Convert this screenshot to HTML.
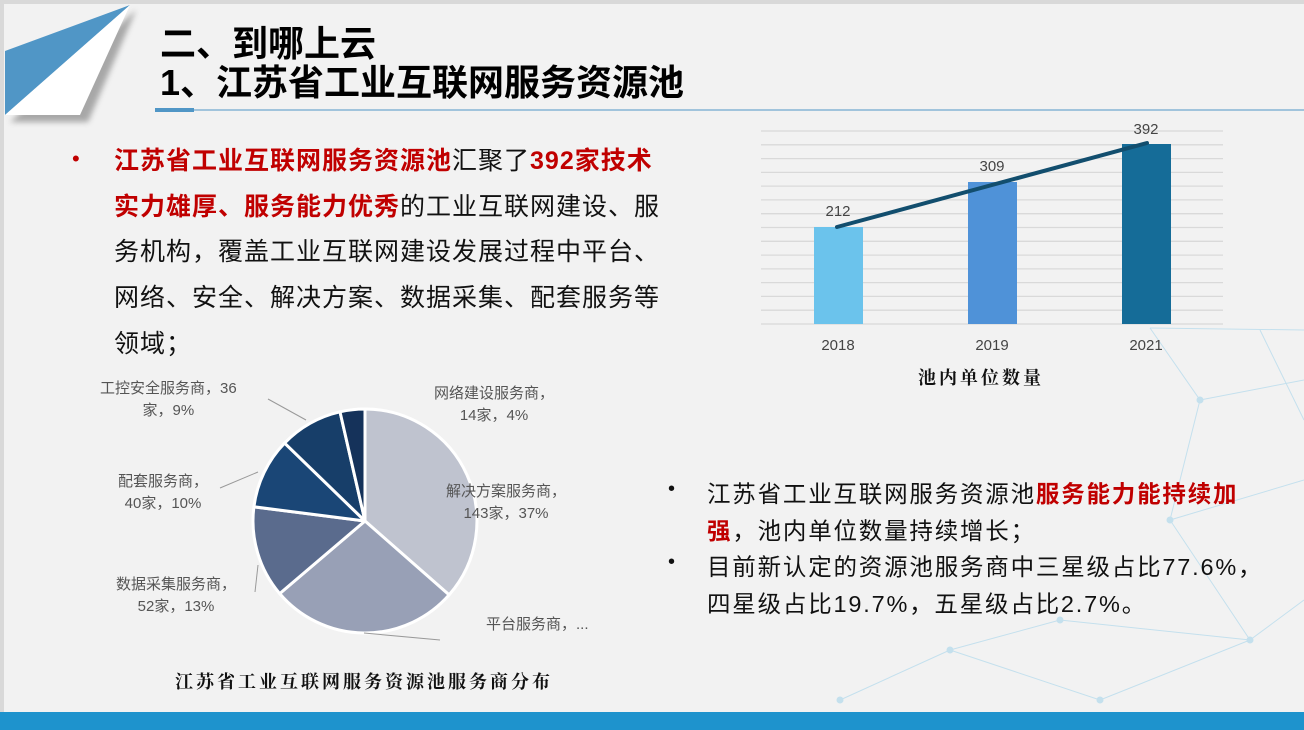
<!DOCTYPE html>
<html><head><meta charset="utf-8"><style>
body{margin:0;width:1304px;height:730px;overflow:hidden;background:#f2f2f2;font-family:"Liberation Sans","Noto Sans CJK SC",sans-serif;position:relative}
.a{position:absolute;white-space:nowrap}
.t{font-weight:bold;font-size:36px;color:#000;left:160px;line-height:40px}
.p{left:114px;font-size:25px;letter-spacing:1px;color:#111;line-height:45.7px;top:139px}
.r{color:#c00000;font-weight:bold}
.q{left:707px;font-size:23.5px;letter-spacing:1.8px;color:#111;line-height:36.5px}
.lb{font-size:15px;color:#555;line-height:22px;text-align:center}
</style></head><body>
<div class="a" style="left:0;top:0;width:1304px;height:4px;background:#d9d9d9"></div>
<div class="a" style="left:0;top:0;width:4px;height:730px;background:#d9d9d9"></div>
<svg class="a" style="left:0;top:0" width="1304" height="730">
<defs><filter id="s"><feGaussianBlur stdDeviation="3"/></filter></defs>
<polygon points="10,122 136,10 88,122" fill="#888" filter="url(#s)" opacity="0.7"/>
<polygon points="5,51 130,5 5,115" fill="#5096c6"/>
<polygon points="5,115 130,5 80,115" fill="#fff"/>
<rect x="155" y="108" width="39" height="4" fill="#5096c6"/>
<line x1="194" y1="110" x2="1304" y2="110" stroke="#5096c6" stroke-width="1"/>
<g stroke="#b9dced" stroke-width="1" fill="#b9dced" opacity="0.8">
<line x1="1150" y1="328" x2="1304" y2="330"/><line x1="1150" y1="328" x2="1200" y2="400"/><line x1="1200" y1="400" x2="1304" y2="380"/>
<line x1="1200" y1="400" x2="1170" y2="520"/><line x1="1170" y1="520" x2="1304" y2="480"/><line x1="1170" y1="520" x2="1250" y2="640"/>
<line x1="1250" y1="640" x2="1304" y2="600"/><line x1="1250" y1="640" x2="1100" y2="700"/><line x1="1100" y1="700" x2="950" y2="650"/>
<line x1="950" y1="650" x2="840" y2="700"/><line x1="950" y1="650" x2="1060" y2="620"/><line x1="1060" y1="620" x2="1250" y2="640"/>
<line x1="1260" y1="330" x2="1304" y2="420"/>
<circle cx="1200" cy="400" r="3"/><circle cx="1170" cy="520" r="3"/><circle cx="1250" cy="640" r="3"/><circle cx="950" cy="650" r="3"/><circle cx="1100" cy="700" r="3"/><circle cx="1060" cy="620" r="3"/><circle cx="840" cy="700" r="3"/>
</g>
<g stroke="#d9d9d9" stroke-width="1.3">
<line x1="761" y1="131" x2="1223" y2="131"/><line x1="761" y1="144.8" x2="1223" y2="144.8"/><line x1="761" y1="158.6" x2="1223" y2="158.6"/><line x1="761" y1="172.4" x2="1223" y2="172.4"/><line x1="761" y1="186.1" x2="1223" y2="186.1"/><line x1="761" y1="199.9" x2="1223" y2="199.9"/><line x1="761" y1="213.7" x2="1223" y2="213.7"/><line x1="761" y1="227.5" x2="1223" y2="227.5"/><line x1="761" y1="241.3" x2="1223" y2="241.3"/><line x1="761" y1="255.1" x2="1223" y2="255.1"/><line x1="761" y1="268.9" x2="1223" y2="268.9"/><line x1="761" y1="282.6" x2="1223" y2="282.6"/><line x1="761" y1="296.4" x2="1223" y2="296.4"/><line x1="761" y1="310.2" x2="1223" y2="310.2"/><line x1="761" y1="324" x2="1223" y2="324"/>
</g>
<rect x="814" y="227" width="49" height="97" fill="#6bc3ec"/>
<rect x="968" y="182" width="49" height="142" fill="#4f92d8"/>
<rect x="1122" y="144" width="49" height="180" fill="#156c98"/>
<polyline points="837,227 1147,143" stroke="#124e6e" stroke-width="4" stroke-linecap="round" fill="none"/>
<g font-size="15" fill="#444" text-anchor="middle" font-family="Liberation Sans,sans-serif">
<text x="838" y="216">212</text><text x="992" y="171">309</text><text x="1146" y="134">392</text>
<text x="838" y="350">2018</text><text x="992" y="350">2019</text><text x="1146" y="350">2021</text>
</g>
<text x="981" y="384" font-size="18" letter-spacing="3" font-weight="bold" text-anchor="middle" fill="#111" font-family="Noto Serif CJK SC,serif">池内单位数量</text>
<g stroke="#fff" stroke-width="3" stroke-linejoin="round">
<path d="M365,521 L365,409 A112,112 0 0 1 449.1,594.9 Z" fill="#bfc3cf"/>
<path d="M365,521 L449.1,594.9 A112,112 0 0 1 279.7,593.6 Z" fill="#98a0b6"/>
<path d="M365,521 L279.7,593.6 A112,112 0 0 1 253.9,506.8 Z" fill="#5a6b8d"/>
<path d="M365,521 L253.9,506.8 A112,112 0 0 1 284.6,443.1 Z" fill="#1a4676"/>
<path d="M365,521 L284.6,443.1 A112,112 0 0 1 340,411.8 Z" fill="#173e69"/>
<path d="M365,521 L340,411.8 A112,112 0 0 1 365,409 Z" fill="#15325a"/>
</g>
<g stroke="#999" stroke-width="1" fill="none">
<polyline points="268,399 306,420"/><polyline points="220,488 258,472"/><polyline points="255,592 258,565"/><polyline points="364,633 440,640"/>
</g>
<text x="364" y="688" font-size="18" letter-spacing="3" font-weight="bold" text-anchor="middle" fill="#111" font-family="Noto Serif CJK SC,serif">江苏省工业互联网服务资源池服务商分布</text>
</svg>
<div class="a t" style="top:24px">二、到哪上云</div>
<div class="a t" style="top:63px">1、江苏省工业互联网服务资源池</div>
<div class="a" style="left:72px;top:146px;color:#c00000;font-size:22px">•</div>
<div class="a p"><span class="r">江苏省工业互联网服务资源池</span>汇聚了<span class="r">392家技术</span><br><span class="r">实力雄厚、服务能力优秀</span>的工业互联网建设、服<br>务机构，覆盖工业互联网建设发展过程中平台、<br>网络、安全、解决方案、数据采集、配套服务等<br>领域；</div>
<div class="a lb" style="left:100px;top:378px">工控安全服务商，36<br>家，9%</div>
<div class="a lb" style="left:434px;top:383px">网络建设服务商，<br>14家，4%</div>
<div class="a lb" style="left:118px;top:471px">配套服务商，<br>40家，10%</div>
<div class="a lb" style="left:446px;top:481px">解决方案服务商，<br>143家，37%</div>
<div class="a lb" style="left:116px;top:574px">数据采集服务商，<br>52家，13%</div>
<div class="a lb" style="left:486px;top:614px">平台服务商，...</div>
<div class="a" style="left:668px;top:478px;font-size:20px;color:#111">•</div>
<div class="a" style="left:668px;top:551px;font-size:20px;color:#111">•</div>
<div class="a q" style="top:476px">江苏省工业互联网服务资源池<span class="r">服务能力能持续加</span><br><span class="r">强</span>，池内单位数量持续增长；</div>
<div class="a q" style="top:549px">目前新认定的资源池服务商中三星级占比77.6%，<br>四星级占比19.7%，五星级占比2.7%。</div>
<div class="a" style="left:0;top:712px;width:1304px;height:18px;background:#1e93cd"></div>
</body></html>
